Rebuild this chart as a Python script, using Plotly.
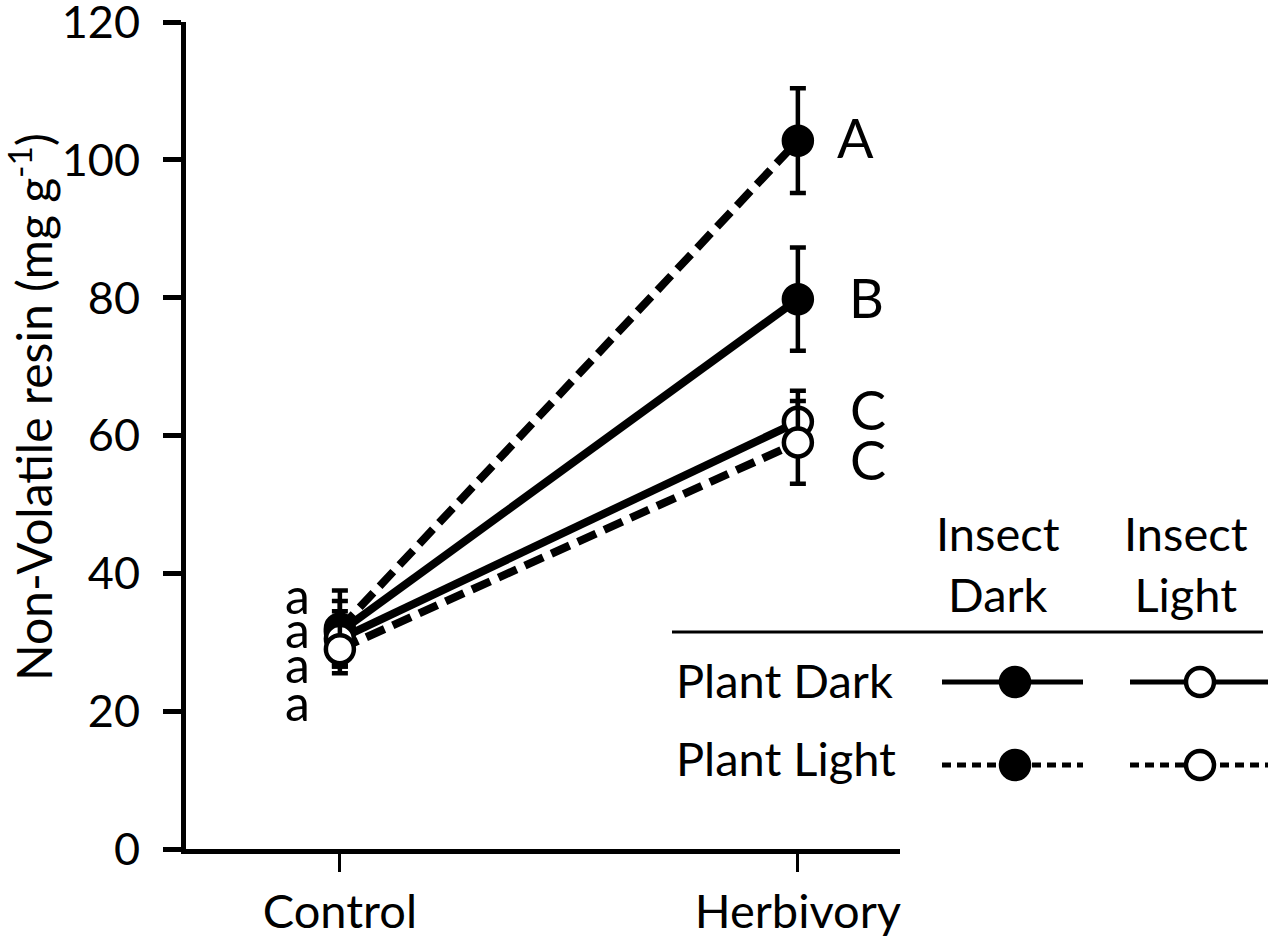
import plotly.graph_objects as go

W, H = 1280, 952
FONT = "Lato"

# ---- data ----
treatments = ["Control", "Herbivory"]
series_names = ["Plant Dark / Insect Dark", "Plant Light / Insect Dark",
                "Plant Dark / Insect Light", "Plant Light / Insect Light"]
pd_id = [31.5, 79.8]
pd_id_err = [4.5, 7.5]
pl_id = [32.0, 102.8]
pl_id_err = [5.5, 7.6]
pd_il = [30.5, 62.0]
pd_il_err = [4.0, 4.5]
pl_il = [29.0, 59.0]
pl_il_err = [3.5, 6.0]

ctrl_letters = ["a", "a", "a", "a"]
ctrl_letter_y = [36.8, 31.9, 26.8, 21.4]
herb_letters = ["A", "B", "C", "C"]
herb_letter_y = [103.3, 80.1, 63.8, 56.6]
herb_letter_x = [1.125, 1.15, 1.153, 1.153]

yticks = [0, 20, 40, 60, 80, 100, 120]

# ---- layout helpers (pixel -> paper) ----
def px(x):
    return x / W

def py(y):
    return 1 - y / H

X0, X1 = 186, 900     # plot area left/right in px
Y0, Y1 = 849, 22      # plot area bottom/top in px
XR = [-0.336, 1.223]

fig = go.Figure()

styles = [
    (pd_id, pd_id_err, "solid", "black"),
    (pl_id, pl_id_err, "20px,9px", "black"),
    (pd_il, pd_il_err, "solid", "white"),
    (pl_il, pl_il_err, "20px,9px", "white"),
]
xnum = [0, 1]
for name, (vals, errs, dash, fill) in zip(series_names, styles):
    fig.add_trace(go.Scatter(
        x=xnum, y=vals, name=name, mode="lines+markers",
        line=dict(color="black", width=8, dash=dash),
        marker=dict(size=28, color=fill, line=dict(color="black", width=4.5)),
        error_y=dict(type="data", array=errs, visible=True, color="black",
                     thickness=4.5, width=8),
        showlegend=False,
    ))

# letters
for t, y in zip(ctrl_letters, ctrl_letter_y):
    fig.add_annotation(x=-0.092, y=y, xref="x", yref="y", text=t, showarrow=False,
                       xanchor="center", yanchor="middle",
                       font=dict(family=FONT, size=50, color="black"))
for t, x, y in zip(herb_letters, herb_letter_x, herb_letter_y):
    fig.add_annotation(x=x, y=y, xref="x", yref="y", text=t, showarrow=False,
                       xanchor="center", yanchor="middle",
                       font=dict(family=FONT, size=54, color="black"))

# y title
fig.add_annotation(x=px(30), y=py(407), xref="paper", yref="paper",
                   xanchor="center", yanchor="middle",
                   text="Non-Volatile resin (mg g<sup>-1</sup>)", textangle=-90,
                   showarrow=False, font=dict(family=FONT, size=48, color="black"))

# ---- custom legend ----
for txt, cx in [("Insect<br>Dark", 998), ("Insect<br>Light", 1186)]:
    fig.add_annotation(x=px(cx), y=py(563), xref="paper", yref="paper", text=txt,
                       showarrow=False, align="center",
                       xanchor="center", yanchor="middle",
                       font=dict(family=FONT, size=47, color="black"))
for txt, cy in [("Plant Dark", 680), ("Plant Light", 758)]:
    fig.add_annotation(x=px(674), y=py(cy), xref="paper", yref="paper", text=txt,
                       showarrow=False, xanchor="left", yanchor="middle",
                       font=dict(family=FONT, size=47, color="black"))
fig.add_shape(type="line", xref="paper", yref="paper",
              x0=px(672), x1=px(1263), y0=py(632), y1=py(632),
              line=dict(color="black", width=3))

leg_rows = [(682, "solid"), (765, "9px,6px")]
leg_cols = [(942, 1015, 1083, "black"), (1130, 1200, 1268, "white")]
R = 14
for ry, dash in leg_rows:
    for lx0, mx, lx1, fill in leg_cols:
        fig.add_shape(type="line", xref="paper", yref="paper",
                      x0=px(lx0), x1=px(lx1), y0=py(ry), y1=py(ry),
                      line=dict(color="black", width=5, dash=dash))
        fig.add_shape(type="circle", xref="paper", yref="paper",
                      xsizemode="pixel", ysizemode="pixel",
                      xanchor=px(mx), yanchor=py(ry),
                      x0=-R, x1=R, y0=-R, y1=R,
                      fillcolor=fill, line=dict(color="black", width=4.5))

fig.update_layout(
    width=W, height=H,
    margin=dict(l=0, r=0, t=0, b=0),
    paper_bgcolor="white", plot_bgcolor="white",
    font=dict(family=FONT, color="black"),
    xaxis=dict(domain=[px(X0), px(X1)], range=XR, tickmode="array",
               tickvals=xnum, ticktext=treatments,
               showline=True, linewidth=5, linecolor="black",
               ticks="outside", ticklen=18, tickwidth=3, tickcolor="black",
               showgrid=False, zeroline=False, automargin=False,
               tickfont=dict(family=FONT, size=47, color="black"),
               ticklabelstandoff=0),
    yaxis=dict(domain=[py(Y0), py(Y1)], range=[0, 120.02], tickmode="array",
               tickvals=yticks, ticklabeloverflow="allow",
               showline=True, linewidth=5, linecolor="black",
               ticks="outside", ticklen=18, tickwidth=5, tickcolor="black",
               showgrid=False, zeroline=False, automargin=False,
               tickfont=dict(family=FONT, size=45, color="black"),
               ticklabelstandoff=14),
)

fig.write_html("out.html", config={"displayModeBar": False},
               post_script="document.body.style.margin='0';document.body.style.overflow='hidden';")
